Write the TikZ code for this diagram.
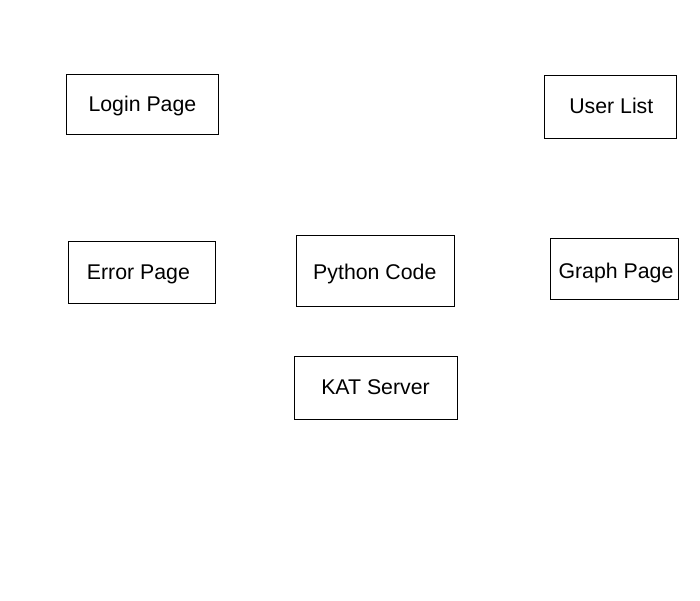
\documentclass[tikz,border=0pt]{standalone}
\usepackage{fontspec}
\setmainfont{Liberation Sans}
\begin{document}
\begin{tikzpicture}[x=1pt,y=-1pt,
  box/.style={draw=black,line width=0.9pt,rectangle,inner sep=0pt},
  lbl/.style={inner sep=0pt,text height=15pt,text depth=4.5pt,font=\fontsize{21.3}{25}\selectfont,text=black}]
\useasboundingbox[fill=white] (0,0) rectangle (700,600);
\node[box,minimum width=152pt,minimum height=60pt,
  label={[lbl,xshift=0.4pt,yshift=-1.85pt]center:Login Page}] (login) at (142,104) {};
\node[box,minimum width=132pt,minimum height=63pt,
  label={[lbl,xshift=1.3pt,yshift=-1.75pt]center:User List}] (users) at (610,106.5) {};
\node[box,minimum width=147pt,minimum height=62pt,
  label={[lbl,xshift=-3.1pt,yshift=-1.75pt]center:Error Page}] (error) at (141.5,272) {};
\node[box,minimum width=158pt,minimum height=71pt,
  label={[lbl,xshift=-0.2pt,yshift=-3.85pt]center:Python Code}] (python) at (375,270.5) {};
\node[box,minimum width=128pt,minimum height=61pt,
  label={[lbl,xshift=2pt,yshift=-4.95pt]center:Graph Page}] (graph) at (614,268.5) {};
\node[box,minimum width=163pt,minimum height=63pt,
  label={[lbl,xshift=0pt,yshift=-2.05pt]center:KAT Server}] (kat) at (375.5,387.5) {};
\end{tikzpicture}
\end{document}
